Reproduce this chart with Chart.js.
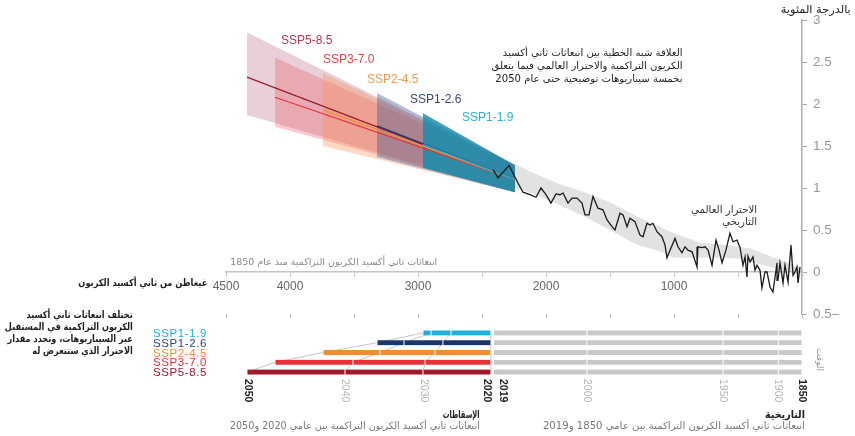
<!DOCTYPE html>
<html lang="ar">
<head>
<meta charset="utf-8">
<script src="https://cdn.jsdelivr.net/npm/chart.js@4.4.1/dist/chart.umd.min.js"></script>
<style>
  html, body { margin: 0; padding: 0; background: #fff; }
  #wrap { position: relative; width: 855px; height: 436px; overflow: hidden;
          font-family: "Liberation Sans", "DejaVu Sans", sans-serif; }
  #wrap canvas { position: absolute; left: 0; top: 0; }
  .t { position: absolute; white-space: nowrap; width: max-content; }
  .ar { direction: rtl; text-align: right; font-family: "DejaVu Sans", sans-serif; transform-origin: right center; }
  .ssp { font-family: "Liberation Sans", sans-serif; font-size: 12px; line-height: 12px; }
  .leg { font-family: "Liberation Sans", sans-serif; font-size: 11.5px; line-height: 12px;
         letter-spacing: 0.6px; text-align: right; }
</style>
</head>
<body>
<div id="wrap">
  <canvas id="warming" width="855" height="436"></canvas>
  <canvas id="budget" width="855" height="436"></canvas>

  <!-- upper panel text -->
  <div class="t ar" data-fit="70" style="right:4px;top:3px;font-size:11px;line-height:13px;color:#222;">بالدرجة المئوية</div>
  <div class="t ar" data-fit="191" style="right:172px;top:46px;font-size:10px;line-height:13px;color:#222;">العلاقة شبه الخطية بين انبعاثات ثاني أكسيد<br>الكربون التراكمية والاحترار العالمي فيما يتعلق<br>بخمسة سيناريوهات توضيحية حتى عام 2050</div>
  <div class="t ar" data-fit="66" style="right:98px;top:203px;font-size:10.5px;line-height:12px;color:#333;">الاحترار العالمي<br>التاريخي</div>
  <div class="t ar" data-fit="207" style="right:418px;top:256px;font-size:9.5px;line-height:12px;color:#888;">انبعاثات ثاني أكسيد الكربون التراكمية منذ عام 1850</div>
  <div class="t ar" data-fit="129" style="right:648px;top:277px;font-size:10px;line-height:12px;color:#222;font-weight:bold;">غيغاطن  من ثاني أكسيد الكربون</div>

  <div class="t ssp" style="left:281px;top:34px;color:#b23a50;">SSP5-8.5</div>
  <div class="t ssp" style="left:323px;top:53px;color:#e2474f;">SSP3-7.0</div>
  <div class="t ssp" style="left:367px;top:73px;color:#f09a4a;">SSP2-4.5</div>
  <div class="t ssp" style="left:410px;top:93px;color:#3a4775;">SSP1-2.6</div>
  <div class="t ssp" style="left:462px;top:111px;color:#2ab3d9;">SSP1-1.9</div>

  <!-- lower panel text -->
  <div class="t ar" data-fit="128" style="right:722px;top:309px;font-size:10px;line-height:12px;color:#222;font-weight:bold;">تختلف انبعاثات ثاني أكسيد<br>الكربون التراكمية في المستقبل<br>عبر السيناريوهات، وتحدد مقدار<br>الاحترار الذي ستتعرض له</div>
  <div class="t leg" style="right:648px;top:327px;color:#1eb1dc;">SSP1-1.9</div>
  <div class="t leg" style="right:648px;top:337px;color:#2b4679;">SSP1-2.6</div>
  <div class="t leg" style="right:648px;top:347px;color:#ef8e2f;">SSP2-4.5</div>
  <div class="t leg" style="right:648px;top:356px;color:#e3323a;">SSP3-7.0</div>
  <div class="t leg" style="right:648px;top:366px;color:#a0182a;">SSP5-8.5</div>

  <div class="t ar" data-fit="37" style="right:375px;top:408px;font-size:10.5px;line-height:12px;color:#222;font-weight:bold;">الإسقاطات</div>
  <div class="t ar" data-fit="250" style="right:375px;top:420px;font-size:10px;line-height:12px;color:#777;">انبعاثات ثاني أكسيد الكربون التراكمية بين عامي 2020 و2050</div>
  <div class="t ar" data-fit="40" style="right:50px;top:408px;font-size:10.5px;line-height:12px;color:#222;font-weight:bold;">التاريخية</div>
  <div class="t ar" data-fit="262" style="right:50px;top:420px;font-size:10px;line-height:12px;color:#777;">انبعاثات ثاني أكسيد الكربون التراكمية بين عامي 1850 و2019</div>
  <div class="t" style="left:825px;top:348px;font-family:'DejaVu Sans',sans-serif;font-size:9px;line-height:10px;color:#999;direction:rtl;transform:rotate(90deg);transform-origin:left top;">الوقت</div>
</div>

<script>
// Scenarios, in top-to-bottom bar order
const scenarios = ['SSP1-1.9', 'SSP1-2.6', 'SSP2-4.5', 'SSP3-7.0', 'SSP5-8.5'];
const lineColors = ['#2bb5de', '#1d3a6e', '#ef9039', '#e4333e', '#9b1c31'];
const barColors  = ['#1eb1dc', '#1c3567', '#ef8e2f', '#e3323a', '#a0182a'];
const fanColors  = ['rgba(20,140,172,0.82)', 'rgba(70,85,140,0.40)', 'rgba(245,145,85,0.34)',
                    'rgba(232,80,92,0.30)', 'rgba(165,55,85,0.24)'];

// Cumulative CO2 emissions since 1850 (GtCO2) at the end of each decade
const cum2020 = 2430;
const cum2030 = [2742, 2805, 2867, 2945, 2961];
const cum2040 = [2898, 3109, 3297, 3508, 3570];
const cum2050 = [2961, 3320, 3742, 4117, 4336];

// Warming (°C) reached at 2050 cumulative emissions: central, upper and lower range
const warm2050Central = [1.52, 1.74, 1.93, 2.08, 2.32];
const warm2050High    = [1.89, 2.13, 2.37, 2.55, 2.85];
const warm2050Low     = [1.24, 1.37, 1.50, 1.73, 1.87];
// Common starting point of the projection fans
const fanStartCum = 2242;
const fanStartCentral = 1.10;
const fanStartHigh = 1.27;
const fanStartLow = 0.95;

// Historical cumulative emissions (GtCO2) and observed warming (°C)
const histCum = [16,31,39,55,70,86,109,133,148,172,188,195,227,250,273,289,313,328,352,367,383,406,422,430,445,461,484,508,539,563,594,625,648,672,703,734,758,781,813,820,859,891,914,938,969,992,1031,1055,1070,1094,1133,1164,1188,1211,1242,1266,1305,1344,1367,1398,1422,1461,1484,1523,1555,1594,1633,1664,1695,1719,1758,1797,1828,1867,1891,1922,1961,2000,2039,2078,2125,2180,2219,2289,2375,2414];
const histTemp = [0.06,-0.13,0.06,0.00,-0.04,0.32,-0.12,0.08,-0.13,0.11,-0.10,0.11,-0.24,-0.18,0.00,0.00,-0.19,0.02,0.08,0.02,0.18,0.12,0.19,-0.06,0.18,0.08,0.29,0.38,0.36,0.46,0.26,0.11,0.26,0.38,0.08,0.26,0.30,0.29,0.30,0.06,0.24,0.26,0.30,0.23,0.30,0.40,0.26,0.17,0.32,0.42,0.48,0.58,0.56,0.58,0.42,0.44,0.60,0.64,0.54,0.68,0.70,0.50,0.54,0.62,0.74,0.76,0.90,0.68,0.68,0.82,0.88,0.88,0.82,0.94,0.92,0.93,0.82,0.92,1.00,0.89,0.92,0.95,1.06,1.27,1.12,1.22];

// Uncertainty band around the historical warming
const bandCum  = [0, 100, 200, 300, 400, 500, 600, 800, 1000, 1100, 1300, 1500, 1700, 1900, 2100, 2300, 2470];
const bandLow  = [-0.02, 0.00, 0.04, 0.08, 0.12, 0.16, 0.17, 0.17, 0.17, 0.24, 0.33, 0.50, 0.66, 0.80, 0.93, 1.03, 1.12];
const bandHigh = [0.04, 0.10, 0.16, 0.22, 0.28, 0.30, 0.32, 0.35, 0.46, 0.53, 0.67, 0.83, 0.95, 1.05, 1.18, 1.33, 1.45];

// Historical emission periods (bar segments) and their year labels
const histBreaks = [0, 185, 617, 1680, 2410];
const histYears  = ['1850', '1900', '1950', '2000', '2019'];

// Axis ticks
const xTickLabels = [4500, 4000, 3000, 2000, 1000];

const FONT = '"Liberation Sans", "DejaVu Sans", sans-serif';
const pts = (xs, ys) => xs.map((x, i) => ({ x, y: ys[i] }));

// squeeze each Arabic caption to the width of its column
document.querySelectorAll('[data-fit]').forEach(el => {
  const w = el.getBoundingClientRect().width;
  if (w > 0) el.style.transform = 'scaleX(' + (Number(el.dataset.fit) / w).toFixed(3) + ')';
});

// ---------- upper panel: warming versus cumulative emissions ----------
const warmSets = [];
warmSets.push({ data: pts(bandCum, bandHigh), borderWidth: 0, pointRadius: 0,
                backgroundColor: 'rgba(190,190,190,0.45)', fill: '+1', order: 100 });
warmSets.push({ data: pts(bandCum, bandLow), borderWidth: 0, pointRadius: 0, fill: false, order: 100 });

// fans: the widest scenario is drawn first
for (let i = scenarios.length - 1; i >= 0; i--) {
  const ord = 50 + i * 10;
  warmSets.push({ label: scenarios[i] + ' high',
    data: [{ x: fanStartCum, y: fanStartHigh }, { x: cum2050[i], y: warm2050High[i] }],
    borderWidth: 0, pointRadius: 0, backgroundColor: fanColors[i], fill: '+1', order: ord });
  warmSets.push({ label: scenarios[i] + ' low',
    data: [{ x: fanStartCum, y: fanStartLow }, { x: cum2050[i], y: warm2050Low[i] }],
    borderWidth: 0, pointRadius: 0, fill: false, order: ord });
}
for (let i = scenarios.length - 1; i >= 0; i--) {
  warmSets.push({ label: scenarios[i],
    data: [{ x: fanStartCum, y: fanStartCentral }, { x: cum2050[i], y: warm2050Central[i] }],
    borderColor: lineColors[i], borderWidth: 1.2, pointRadius: 0, fill: false, order: 10 + i });
}
warmSets.push({ label: 'historical', data: pts(histCum, histTemp),
  borderColor: '#1b1b1b', borderWidth: 1.3, pointRadius: 0, fill: false, order: 0 });

new Chart(document.getElementById('warming'), {
  type: 'line',
  data: { datasets: warmSets },
  options: {
    responsive: false, animation: false, events: [],
    layout: { padding: { left: 226, right: 13, top: 20, bottom: 118 } },
    plugins: { legend: { display: false }, tooltip: { enabled: false } },
    elements: { line: { tension: 0 } },
    scales: {
      x: {
        type: 'linear', reverse: true, min: 0, max: 4500, position: { y: 0 },
        ticks: { stepSize: 500, autoSkip: false, maxRotation: 0, padding: 3, color: '#666',
                 font: { family: FONT, size: 12 },
                 callback: v => xTickLabels.includes(v) ? String(v) : '' },
        grid: { drawOnChartArea: false, tickLength: 4, color: '#c4c4c4' },
        border: { color: '#c4c4c4', width: 1.5 }
      },
      x2: {
        type: 'linear', reverse: true, min: 0, max: 4500, position: 'bottom',
        ticks: { display: false, stepSize: 500 },
        grid: { drawOnChartArea: false, tickLength: 4, color: '#bdbdbd' },
        border: { display: false },
        afterFit: s => { s.height = 4; }
      },
      y: {
        position: 'right', min: -0.5, max: 3,
        ticks: { stepSize: 0.5, padding: 6, color: '#999', font: { family: FONT, size: 13.5 },
                 callback: v => v < 0 ? Math.abs(v) + '–' : String(v) },
        grid: { drawOnChartArea: false, tickLength: 5, color: '#aaa' },
        border: { color: '#b0b0b0', width: 1.5 },
        afterFit: s => { s.width = 40; }
      }
    }
  }
});

// ---------- lower panel: cumulative emissions as bars ----------
const rowFill = v => scenarios.map(() => v);
const budgetSets = [];
for (let k = 0; k < histBreaks.length - 1; k++) {
  budgetSets.push({ data: rowFill([histBreaks[k], histBreaks[k + 1]]), backgroundColor: '#c8c8c8' });
}
budgetSets.push({ data: cum2030.map(v => [cum2020, v]), backgroundColor: barColors });
budgetSets.push({ data: cum2040.map((v, i) => [cum2030[i], v]), backgroundColor: barColors });
budgetSets.push({ data: cum2050.map((v, i) => [cum2040[i], v]), backgroundColor: barColors });

// thin lines joining the same year across scenarios
const decadeLines = {
  id: 'decadeLines',
  beforeDatasetsDraw(chart) {
    const { ctx, scales: { x, y } } = chart;
    ctx.save();
    ctx.strokeStyle = '#b8b8b8';
    ctx.lineWidth = 0.8;
    [rowFill(cum2020), cum2030, cum2040, cum2050].forEach(arr => {
      ctx.beginPath();
      arr.forEach((v, i) => {
        const px = x.getPixelForValue(v), py = y.getPixelForValue(i);
        if (i === 0) ctx.moveTo(px, py); else ctx.lineTo(px, py);
      });
      ctx.stroke();
    });
    ctx.restore();
  }
};

// vertical year labels under the bars
const yearLabels = {
  id: 'yearLabels',
  afterDatasetsDraw(chart) {
    const { ctx, scales: { x }, chartArea } = chart;
    const last = scenarios.length - 1;
    const marks = [
      { t: histYears[0], v: histBreaks[0], bold: true, dx: 0 },
      { t: histYears[1], v: histBreaks[1], bold: false, dx: 0 },
      { t: histYears[2], v: histBreaks[2], bold: false, dx: 0 },
      { t: histYears[3], v: histBreaks[3], bold: false, dx: 0 },
      { t: histYears[4], v: histBreaks[4], bold: true, dx: 9 },
      { t: '2020', v: cum2020, bold: true, dx: -4 },
      { t: '2030', v: cum2030[last], bold: false, dx: 1 },
      { t: '2040', v: cum2040[last], bold: false, dx: 0 },
      { t: '2050', v: cum2050[last], bold: true, dx: 1 }
    ];
    ctx.save();
    ctx.textAlign = 'left';
    ctx.textBaseline = 'middle';
    marks.forEach(m => {
      ctx.font = (m.bold ? 'bold ' : '') + '10.5px ' + FONT;
      ctx.fillStyle = m.bold ? '#222' : '#b4b4b4';
      ctx.save();
      ctx.translate(x.getPixelForValue(m.v) + m.dx, chartArea.bottom + 2);
      ctx.rotate(Math.PI / 2);
      ctx.fillText(m.t, 0, 0);
      ctx.restore();
    });
    ctx.restore();
  }
};

new Chart(document.getElementById('budget'), {
  type: 'bar',
  data: { labels: scenarios, datasets: budgetSets },
  options: {
    indexAxis: 'y', responsive: false, animation: false, events: [],
    layout: { padding: { left: 226, right: 53, top: 328, bottom: 59 } },
    plugins: { legend: { display: false }, tooltip: { enabled: false } },
    datasets: { bar: { barThickness: 5, grouped: false, borderSkipped: false, borderColor: '#fff',
                       borderWidth: { left: 0.8, right: 0.8, top: 0, bottom: 0 } } },
    scales: {
      x: { type: 'linear', reverse: true, min: 0, max: 4500, display: false },
      y: { display: false }
    }
  },
  plugins: [decadeLines, yearLabels]
});
</script>
</body>
</html>
